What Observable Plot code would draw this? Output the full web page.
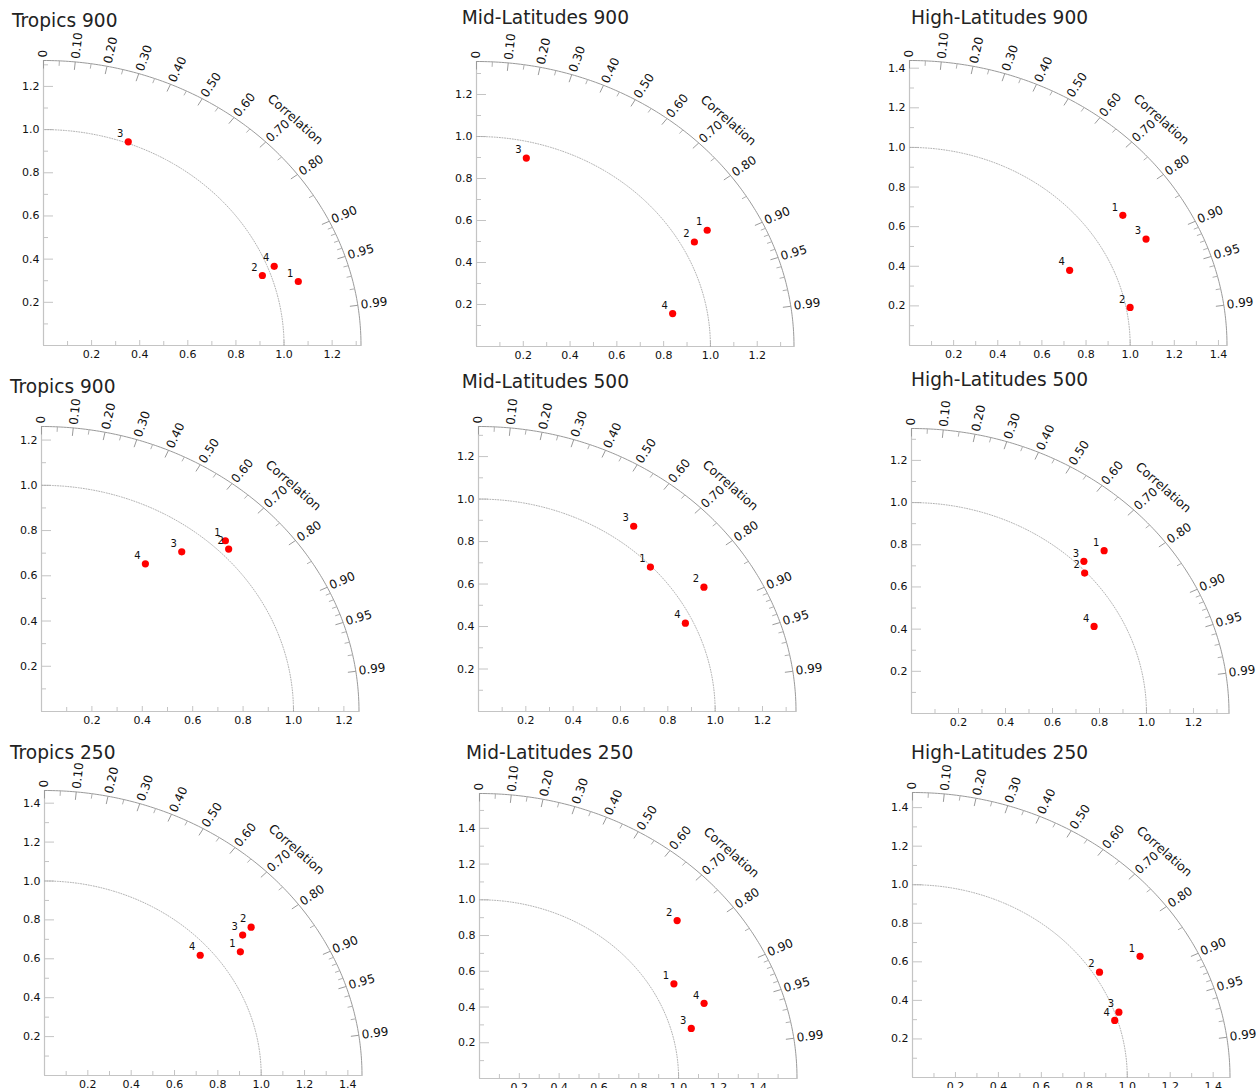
<!DOCTYPE html>
<html><head><meta charset="utf-8">
<script src="https://cdn.jsdelivr.net/npm/d3@7"></script>
<script src="https://cdn.jsdelivr.net/npm/@observablehq/plot@0.6"></script>
<style>
body{margin:0;background:#fff;}
#root{position:relative;width:1256px;height:1088px;overflow:hidden;background:#fff;font-family:"DejaVu Sans",sans-serif;}
.title{position:absolute;font-size:18.6px;line-height:18.6px;color:#222;white-space:nowrap;font-family:"DejaVu Sans",sans-serif;}
.panel{position:absolute;}
</style></head><body><div id="root"></div>
<script>
// ---- data ----
const titles = ["Tropics 900","Mid-Latitudes 900","High-Latitudes 900",
                "Tropics 900","Mid-Latitudes 500","High-Latitudes 500",
                "Tropics 250","Mid-Latitudes 250","High-Latitudes 250"];
const models = ["1","2","3","4"];
// normalized standard deviation per panel, models 1..4
const stdRatio = [
 [1.100,0.966,1.007,1.027],
 [1.131,1.056,0.922,0.853],
 [1.169,1.018,1.199,0.819],
 [1.050,1.033,0.899,0.772],
 [0.995,1.118,1.091,0.968],
 [1.126,0.993,1.029,0.880],
 [1.105,1.221,1.165,0.948],
 [1.111,1.329,1.100,1.204],
 [1.232,1.028,1.019,0.987]
];
// correlation per panel, models 1..4
const correlation = [
 [0.963,0.942,0.350,0.934],
 [0.872,0.882,0.231,0.983],
 [0.827,0.982,0.894,0.886],
 [0.695,0.719,0.619,0.534],
 [0.730,0.852,0.601,0.903],
 [0.728,0.742,0.713,0.883],
 [0.818,0.781,0.785,0.758],
 [0.879,0.747,0.967,0.937],
 [0.860,0.847,0.943,0.954]
];
const corrLabels = [0,0.1,0.2,0.3,0.4,0.5,0.6,0.7,0.8,0.9,0.95,0.99];
const corrMinor = [0.05,0.15,0.25,0.35,0.45,0.55,0.65,0.75,0.85,0.91,0.92,0.93,0.94,0.96,0.97,0.98];
const sdLabels = [0.2,0.4,0.6,0.8,1.0,1.2,1.4];
const sdMinor = [0.1,0.3,0.5,0.7,0.9,1.1,1.3,1.5];

// ---- layout (not data) ----
const layout = [
 {ox:43.3, oy:345.0, tx:12,    tb:28},
 {ox:475.8,oy:345.5, tx:461.7, tb:25},
 {ox:909.2,oy:344.5, tx:911,   tb:25},
 {ox:41.1, oy:710.8, tx:10,    tb:394},
 {ox:477.7,oy:710.7, tx:461.7, tb:389},
 {ox:910.5,oy:713.3, tx:911,   tb:387},
 {ox:44.2, oy:1075.4,tx:10,    tb:760},
 {ox:479.4,oy:1077.5,tx:466,   tb:760},
 {ox:912.1,oy:1076.8,tx:911,   tb:760}
];
const AW = 317.5, AH = 285;
const ML = 50, MR = 80, MT = 85, MB = 30;
const FONT = "DejaVu Sans";
const root = document.getElementById("root");

titles.forEach((t, i) => {
  const L = layout[i];
  const R = 1.2 * d3.max(stdRatio[i]);
  const kx = AW / R, ky = AH / R;
  const pts = models.map((m, j) => {
    const s = stdRatio[i][j], c = correlation[i][j];
    return {m, x: s * c, y: s * Math.sqrt(1 - c * c)};
  });
  const arc = r => d3.range(0, 90.25, 0.5).map(a => ({x: r * Math.cos(a * Math.PI / 180), y: r * Math.sin(a * Math.PI / 180)}));
  const corrGeom = (c, len) => {
    const th = Math.acos(c);
    const phi = Math.atan2(ky * Math.sin(th), kx * Math.cos(th));
    const x = R * Math.cos(th), y = R * Math.sin(th);
    return {c, x, y, phi,
      xi: x - len * Math.cos(phi) / kx, yi: y - len * Math.sin(phi) / ky,
      xl: x + 3 * Math.cos(phi) / kx, yl: y + 3 * Math.sin(phi) / ky,
      label: c === 0 ? "0" : c.toFixed(2)};
  };
  const cMaj = corrLabels.map(c => corrGeom(c, 8));
  const cMin = corrMinor.map(c => corrGeom(c, 5));
  const yMaj = sdLabels.filter(v => v <= R + 1e-9);
  const yMin = sdMinor.filter(v => v <= R + 1e-9);
  const axisColor = "#c4c4c4";

  const plot = Plot.plot({
    width: ML + AW + MR,
    height: MT + AH + MB,
    marginLeft: ML, marginRight: MR, marginTop: MT, marginBottom: MB,
    x: {domain: [0, R], axis: null},
    y: {domain: [0, R], axis: null},
    style: "background:transparent;overflow:visible;max-width:none;",
    marks: [
      // axes lines
      Plot.ruleX([0], {y1: 0, y2: R, stroke: axisColor, strokeWidth: 1.2}),
      Plot.ruleY([0], {x1: 0, x2: R, stroke: axisColor, strokeWidth: 1.2}),
      // y ticks
      Plot.ruleY(yMaj, {y: d => d, x1: 0, x2: 10 / kx, stroke: axisColor}),
      Plot.ruleY(yMin, {y: d => d, x1: 0, x2: 5 / kx, stroke: axisColor}),
      // x ticks
      Plot.ruleX(yMaj, {x: d => d, y1: 0, y2: 5 / ky, stroke: axisColor}),
      Plot.ruleX(yMin, {x: d => d, y1: 0, y2: 4 / ky, stroke: axisColor}),
      // tick labels
      Plot.text(yMaj, {x: 0, y: d => d, text: d => d.toFixed(1), textAnchor: "end", dx: -4, fontSize: 11, fontFamily: FONT, fill: "#111"}),
      Plot.text(yMaj, {x: d => d, y: 0, text: d => d.toFixed(1), dy: 9, fontSize: 11, fontFamily: FONT, fill: "#111"}),
      // reference arc (std = 1)
      Plot.line(arc(1), {x: "x", y: "y", stroke: "#a8a8a8", strokeWidth: 0.9, strokeDasharray: "1,1.6"}),
      // outer arc
      Plot.line(arc(R), {x: "x", y: "y", stroke: "#9a9a9a", strokeWidth: 1}),
      // correlation ticks
      Plot.link(cMaj, {x1: "x", y1: "y", x2: "xi", y2: "yi", stroke: "#9a9a9a"}),
      Plot.link(cMin, {x1: "x", y1: "y", x2: "xi", y2: "yi", stroke: "#b0b0b0"}),
      // correlation labels
      Plot.text(cMaj, {x: "xl", y: "yl", text: "label", rotate: d => -d.phi * 180 / Math.PI, textAnchor: "start", fontSize: 12, fontFamily: FONT, fill: "#111"}),
      Plot.text(["Correlation"], {x: () => R * 0.793, y: () => R * 0.793, text: d => d, rotate: 41.5, fontSize: 12.5, fontFamily: FONT, fill: "#111"}),
      // points
      Plot.dot(pts, {x: "x", y: "y", r: 3.6, fill: "#ff0000", stroke: "none"}),
      Plot.text(pts, {x: "x", y: "y", text: "m", dx: -8, dy: -8, fontSize: 10, fontFamily: FONT, fill: "#111"})
    ]
  });

  const div = document.createElement("div");
  div.className = "panel";
  div.style.left = (L.ox - ML) + "px";
  div.style.top = (L.oy - AH - MT) + "px";
  div.style.width = (ML + AW + MR) + "px";
  div.appendChild(plot);
  root.appendChild(div);

  const td = document.createElement("div");
  td.className = "title";
  td.textContent = t;
  td.style.left = L.tx + "px";
  td.style.top = (L.tb - 15.7) + "px";
  root.appendChild(td);
});
</script>
</body></html>
